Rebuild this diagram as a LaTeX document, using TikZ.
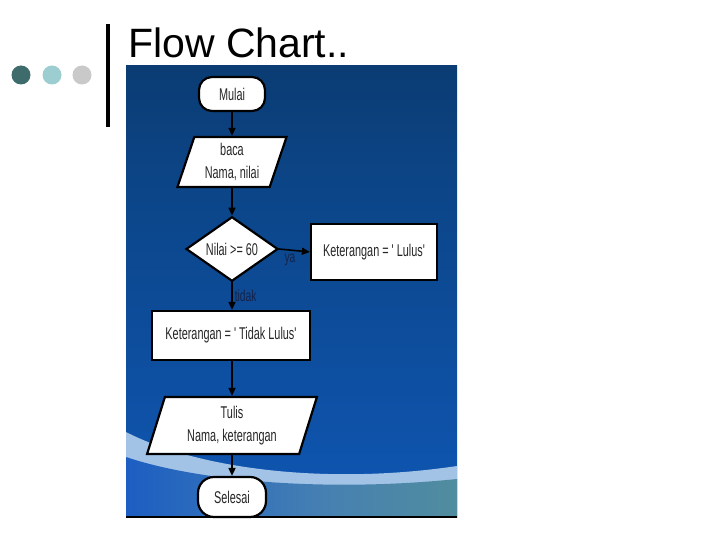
\documentclass[tikz,border=0pt]{standalone}
\usepackage{fontspec}
\setmainfont{Liberation Sans}
\newfontfamily\narrowfont[FakeStretch=0.64]{Liberation Sans}
\usetikzlibrary{shapes.geometric,arrows.meta}
\definecolor{dotdark}{HTML}{3E6C6C}
\definecolor{dotteal}{HTML}{9CCDD1}
\definecolor{dotgray}{HTML}{C9C9C9}
\definecolor{bgA}{HTML}{0A3360}
\definecolor{bgB}{HTML}{0C4587}
\definecolor{bgC}{HTML}{0E54AE}
\definecolor{bgD}{HTML}{0A5FCC}
\definecolor{bandlight}{HTML}{A2C3E6}
\definecolor{lowL}{HTML}{1C5EC2}
\definecolor{lowM}{HTML}{4680B2}
\definecolor{lowR}{HTML}{5E9C86}
\definecolor{lbl}{HTML}{14234A}
\pgfdeclareverticalshading{panelbg}{100bp}{color(0bp)=(bgD); color(30bp)=(bgC); color(62bp)=(bgB); color(88bp)=(bgA); color(100bp)=(bgA)}
\pgfdeclarehorizontalshading{lowbg}{100bp}{color(0bp)=(lowL); color(25bp)=(lowL); color(55bp)=(lowM); color(100bp)=(lowR)}
\tikzset{
  box/.style={draw=black, line width=2.2pt, fill=white, font=\narrowfont\fontsize{17}{23}\selectfont, text=black!85, align=center, inner sep=0pt},
  term/.style={box, rounded corners=13pt},
  io/.style={box, trapezium, trapezium stretches=true},
  dec/.style={box, diamond},
  proc/.style={box, rectangle},
  flow/.style={draw=black, line width=1.6pt, -{Triangle[length=8pt,width=7pt]}},
  lab/.style={font=\narrowfont\fontsize{16}{18}\selectfont, text=lbl, inner sep=0pt}
}
\begin{document}
\begin{tikzpicture}[x=1pt,y=-1pt]
\useasboundingbox (0,0) rectangle (720,540);
\fill[white] (0,0) rectangle (720,540);
% bullets and bar
\fill[dotdark] (21,75) circle (9.5);
\fill[dotteal] (52,75) circle (9.5);
\fill[dotgray] (82,75) circle (9.5);
\fill[black] (106,24) rectangle (110,127);
\node[anchor=base west, inner sep=0pt, font=\fontsize{41}{46}\selectfont] (title) at (128,58) {Flow Chart..};
% panel background
\begin{scope}
\clip (126,66) rectangle (457,517);
\shade[shading=panelbg] (126,66) rectangle (457,517);
\fill[bandlight] (126,432) .. controls (200,470) and (330,485) .. (457,466) -- (457,520) -- (126,520) -- cycle;
\shade[shading=lowbg] (126,457) .. controls (200,482) and (330,492) .. (457,479) -- (457,520) -- (126,520) -- cycle;
\end{scope}
\draw[black, line width=2pt] (126,517) -- (457,517);
% flowchart nodes
\node[term, minimum width=66pt, minimum height=34pt] (mulai) at (232,94) {Mulai};
\node[io, trapezium left angle=72, trapezium right angle=108, minimum width=110pt, minimum height=50pt] (baca) at (232,162) {baca\\Nama, nilai};
\node[dec, minimum width=92pt, minimum height=61pt] (cek) at (232,249) {Nilai >= 60};
\node[proc, minimum width=126pt, minimum height=56pt] (lulus) at (374,252) {Keterangan = ' Lulus'};
\node[proc, minimum width=158pt, minimum height=49pt] (tidak) at (231,335.5) {Keterangan = ' Tidak Lulus'};
\node[io, trapezium left angle=73, trapezium right angle=107, minimum width=170pt, minimum height=57pt] (tulis) at (232,425.5) {Tulis\\Nama, keterangan};
\node[term, rounded corners=16pt, minimum width=68pt, minimum height=40pt] (selesai) at (232,497) {Selesai};
% connectors
\draw[flow] (mulai) -- (baca);
\draw[flow] (baca) -- (cek);
\draw[flow] (cek.east) -- (lulus.west) node[lab, pos=0.15, anchor=north west, yshift=-4pt] (ya) {ya};
\draw[flow] (cek.south) -- (tidak.north -| cek.south) node[lab, midway, anchor=west, xshift=2pt] (td) {tidak};
\draw[flow] (tidak.south -| tulis.north) -- (tulis.north);
\draw[flow] (tulis) -- (selesai);
\end{tikzpicture}
\end{document}
